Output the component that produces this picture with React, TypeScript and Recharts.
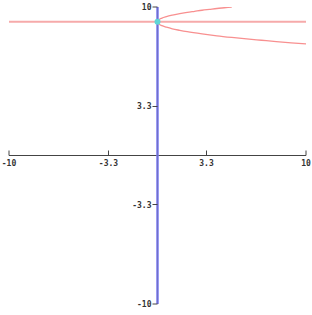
import React from 'react';
import { ComposedChart, Line, XAxis, YAxis, ReferenceLine, ReferenceDot } from 'recharts';

const xTicks = [-10, -3.3, 3.3, 10];
const xTickLabels = ['-10', '-3.3', '3.3', '10'];
const yTicks = [10, 3.3, -3.3, -10];
const yTickLabels = ['10', '3.3', '-3.3', '-10'];

const horizontalY = 9;
const vertexX = 0;
const vertexY = 9;

const upperX = [0, 0.1, 0.3, 0.6, 1, 1.5, 2, 2.5, 3, 3.5, 4, 4.5, 5];
const upperY = [9, 9.14, 9.25, 9.35, 9.45, 9.55, 9.64, 9.71, 9.78, 9.84, 9.9, 9.95, 10];
const lowerX = [0, 0.1, 0.3, 0.6, 1, 1.5, 2, 3, 4, 5, 6, 7, 8, 9, 10];
const lowerY = [9, 8.85, 8.74, 8.64, 8.53, 8.43, 8.34, 8.19, 8.06, 7.95, 7.85, 7.76, 7.67, 7.59, 7.52];

const upper = upperX.map((x, i) => ({ x, y: upperY[i] }));
const lower = lowerX.map((x, i) => ({ x, y: lowerY[i] }));

const FONT = '"DejaVu Sans Mono", monospace';

const XTick = (label: string) => (p: any) => (
  <g>
    <line x1={p.cx} y1={p.cy} x2={p.cx} y2={p.cy - 5} stroke="#444" strokeWidth={1} />
    <text x={p.cx} y={p.cy + 10} textAnchor="middle" fontSize={8} fontWeight="bold" fontFamily={FONT} fill="#333">
      {label}
    </text>
  </g>
);

const YTick = (label: string) => (p: any) => (
  <g>
    <line x1={p.cx - 5} y1={p.cy} x2={p.cx} y2={p.cy} stroke="#444" strokeWidth={1} />
    <text x={p.cx - 6} y={p.cy + 3} textAnchor="end" fontSize={8} fontWeight="bold" fontFamily={FONT} fill="#333">
      {label}
    </text>
  </g>
);

export default function App() {
  return (
    <div style={{ position: 'absolute', left: 0, top: 0, width: 312, height: 315, background: '#fff' }}>
      <ComposedChart width={312} height={315} margin={{ top: 7, right: 6, bottom: 11, left: 9 }}>
        <XAxis type="number" dataKey="x" domain={[-10, 10]} hide allowDataOverflow />
        <YAxis type="number" dataKey="y" domain={[-10, 10]} hide allowDataOverflow />
        <ReferenceLine y={horizontalY} stroke="#f6aaaa" strokeWidth={2} />
        <ReferenceLine y={0} stroke="#444" strokeWidth={1} />
        <ReferenceLine x={0} stroke="#555" strokeWidth={1} />
        <ReferenceLine x={0} stroke="#7a7af0" strokeWidth={3} strokeOpacity={0.75} />
        <Line data={upper} dataKey="y" type="monotone" stroke="#f89090" strokeWidth={1.3} dot={false} isAnimationActive={false} />
        <Line data={lower} dataKey="y" type="monotone" stroke="#f89090" strokeWidth={1.3} dot={false} isAnimationActive={false} />
        {xTicks.map((t, i) => (
          <ReferenceDot key={'x' + i} x={t} y={0} r={0} shape={XTick(xTickLabels[i])} />
        ))}
        {yTicks.map((t, i) => (
          <ReferenceDot key={'y' + i} x={0} y={t} r={0} shape={YTick(yTickLabels[i])} />
        ))}
        <ReferenceDot x={vertexX} y={vertexY} r={3} fill="#5fd6d6" stroke="none" />
      </ComposedChart>
    </div>
  );
}
